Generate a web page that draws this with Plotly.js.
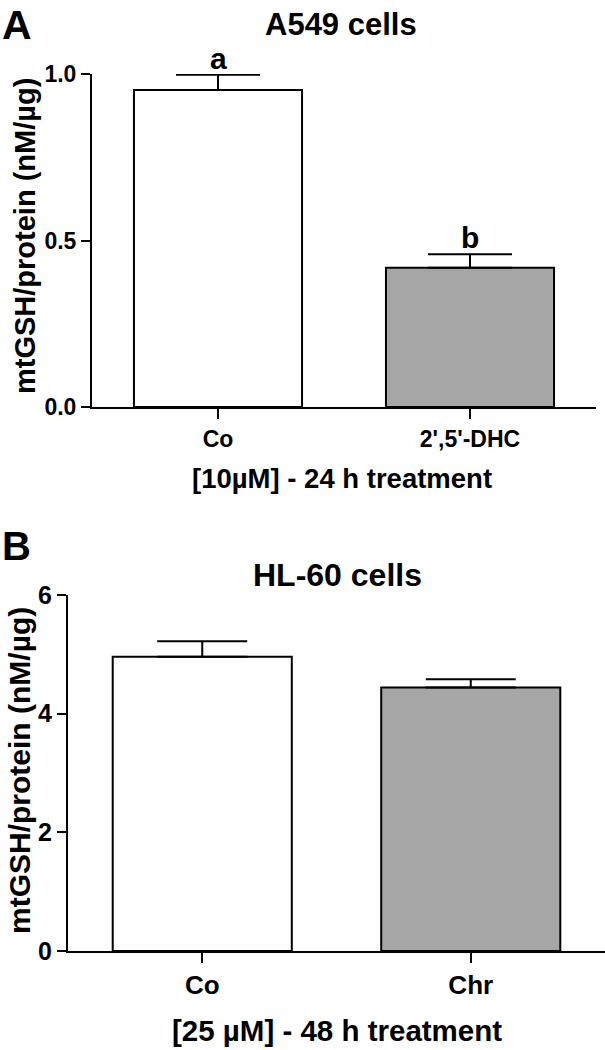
<!DOCTYPE html>
<html>
<head>
<meta charset="utf-8">
<script src="https://cdn.plot.ly/plotly-3.0.1.min.js"></script>
<style>
  html, body { margin: 0; padding: 0; background: #fff; }
  #chart { width: 605px; height: 1050px; }
</style>
</head>
<body>
<div id="chart"></div>
<script>
// panel A - A549 cells, 10 uM, 24 h
var groupsA = ['Co', "2',5'-DHC"];
var valuesA = [0.952, 0.418];
var errorsA = [0.046, 0.041];
var lettersA = ['a', 'b'];

// panel B - HL-60 cells, 25 uM, 48 h
var groupsB = ['Co', 'Chr'];
var valuesB = [4.96, 4.44];
var errorsB = [0.26, 0.14];

var fillColors = ['#ffffff', '#a6a6a6'];

var FONT = 'Liberation Sans, Arial, sans-serif';
function bold(size) {
  return { family: FONT, size: size, color: '#000', weight: 'bold' };
}

var traceA = {
  x: groupsA,
  y: valuesA,
  type: 'bar',
  width: 0.667,
  marker: { color: fillColors, line: { color: '#000', width: 2 } },
  error_y: {
    type: 'data', symmetric: false,
    array: errorsA, arrayminus: [0, 0],
    color: '#000', thickness: 2, width: 42
  },
  xaxis: 'x', yaxis: 'y',
  hoverinfo: 'none'
};

var traceB = {
  x: groupsB,
  y: valuesB,
  type: 'bar',
  width: 0.667,
  marker: { color: fillColors, line: { color: '#000', width: 2 } },
  error_y: {
    type: 'data', symmetric: false,
    array: errorsB, arrayminus: [0, 0],
    color: '#000', thickness: 2, width: 45
  },
  xaxis: 'x2', yaxis: 'y2',
  hoverinfo: 'none'
};

var data = [traceA, traceB];

// shared axis styling
function xAxis(domain, anchor, fs) {
  return {
    domain: domain, anchor: anchor, type: 'category',
    range: [-0.5, 1.5],
    showline: true, linecolor: '#000', linewidth: 2,
    ticks: 'outside', ticklen: 10, tickwidth: 2, tickcolor: '#000',
    tickfont: bold(fs), showgrid: false, zeroline: false, fixedrange: true
  };
}
function yAxis(domain, anchor, range, tickvals, ticktext, fs) {
  return {
    domain: domain, anchor: anchor, range: range,
    tickvals: tickvals, ticktext: ticktext,
    showline: true, linecolor: '#000', linewidth: 2,
    ticks: 'outside', ticklen: 9, tickwidth: 2, tickcolor: '#000',
    tickfont: bold(fs), showgrid: false, zeroline: false, fixedrange: true
  };
}

function paperText(text, xpx, ypx, size, extra) {
  var a = {
    text: text, x: xpx / 605, y: 1 - ypx / 1050,
    xref: 'paper', yref: 'paper', xanchor: 'center', yanchor: 'middle',
    showarrow: false, font: bold(size)
  };
  for (var k in extra) a[k] = extra[k];
  return a;
}

var annotations = [
  paperText('A', 0, 0, 41, { xanchor: 'left', yanchor: 'top' }),
  paperText('A549 cells', 341, 24, 31),
  paperText('mtGSH/protein (nM/\u00b5g)', 25, 236, 29, { textangle: -90 }),
  paperText('[10\u00b5M] - 24 h treatment', 342, 478, 27.5),
  paperText('B', 0, 546, 40, { xanchor: 'left' }),
  paperText('HL-60 cells', 337, 575, 32),
  paperText('mtGSH/protein (nM/\u00b5g)', 19, 771, 30, { textangle: -90 }),
  paperText('[25 \u00b5M] - 48 h treatment', 337, 1030, 29.5)
];

// significance letters above the error caps
groupsA.forEach(function (g, i) {
  annotations.push({
    text: lettersA[i], x: g, y: valuesA[i] + errorsA[i],
    xref: 'x', yref: 'y', yanchor: 'bottom', yshift: -2,
    showarrow: false, font: bold(30)
  });
});

var layout = {
  width: 605,
  height: 1050,
  margin: { l: 0, r: 0, t: 0, b: 0 },
  paper_bgcolor: '#fff',
  plot_bgcolor: 'rgba(0,0,0,0)',
  showlegend: false,
  xaxis: xAxis([92 / 605, 596 / 605], 'y', 23),
  yaxis: yAxis([1 - 407 / 1050, 1 - 74 / 1050], 'x', [0, 1], [0, 0.5, 1], ['0.0', '0.5', '1.0'], 23),
  xaxis2: xAxis([68 / 605, 1], 'y2', 26),
  yaxis2: yAxis([1 - 951 / 1050, 1 - 595 / 1050], 'x2', [0, 6], [0, 2, 4, 6], ['0', '2', '4', '6'], 25),
  annotations: annotations
};

Plotly.newPlot('chart', data, layout, { displayModeBar: false, staticPlot: true });
</script>
</body>
</html>
